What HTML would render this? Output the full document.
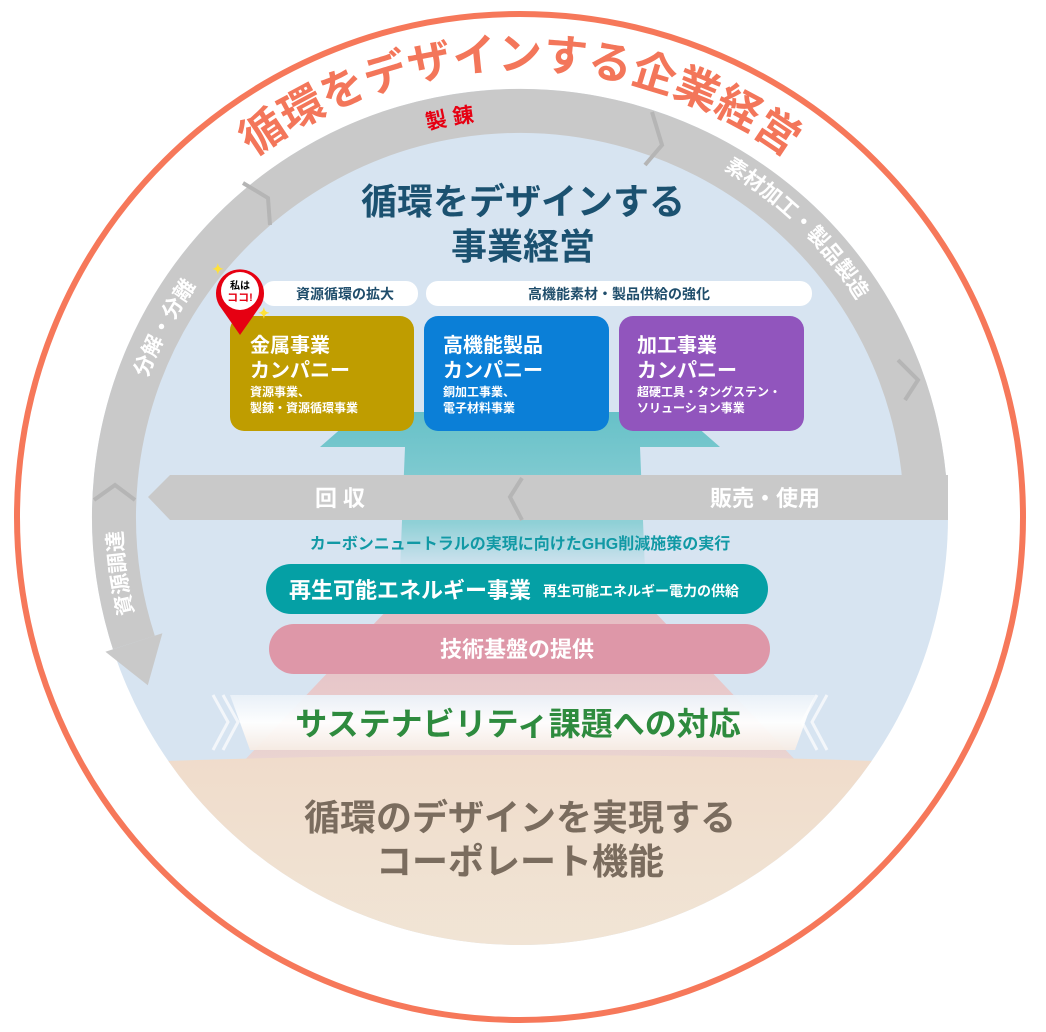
<!DOCTYPE html>
<html><head><meta charset="utf-8"><style>
html,body{margin:0;padding:0;background:#fff;}
svg{display:block;font-family:"Liberation Sans","Noto Sans CJK JP",sans-serif;font-weight:bold;}
</style></head><body>
<svg width="1046" height="1032" viewBox="0 0 1046 1032" xmlns="http://www.w3.org/2000/svg">
<defs>
<clipPath id="disc"><circle cx="520" cy="517" r="428"/></clipPath>
<linearGradient id="beige" x1="0" y1="0" x2="0" y2="1"><stop offset="0" stop-color="#f0dccb"/><stop offset="1" stop-color="#f1e7d8"/></linearGradient>
<linearGradient id="pink" x1="0" y1="0" x2="0" y2="1"><stop offset="0" stop-color="#e39aab"/><stop offset="1" stop-color="#edd2cc"/></linearGradient>
<linearGradient id="teal" x1="0" y1="0" x2="0" y2="1"><stop offset="0" stop-color="#67c1c8"/><stop offset="0.7" stop-color="#8fd0d6"/><stop offset="1" stop-color="#d6e4f1"/></linearGradient>
<linearGradient id="sus" x1="0" y1="0" x2="0" y2="1"><stop offset="0" stop-color="#eaf1f8"/><stop offset="0.5" stop-color="#ffffff"/><stop offset="1" stop-color="#f6ece4"/></linearGradient>
<path id="pTitle" d="M 72,517 A 448 448 0 0 1 968,517"/>
<path id="p1" d="M 215.1,261.1 A 398 398 0 0 1 719,172.3"/>
<path id="p2" d="M 547.8,114 A 398 398 0 0 1 915.8,475.4"/>
<path id="p3" d="M 130.7,599.8 A 398 398 0 0 1 370.9,148"/>
<path id="p4" d="M 253.7,812.8 A 398 398 0 0 1 182.5,306"/>
</defs>
<circle cx="520" cy="517" r="503" fill="#fff" stroke="#f6785a" stroke-width="6"/>
<circle cx="520" cy="517" r="428" fill="#d7e4f1"/>
<g clip-path="url(#disc)">
  <polygon points="520,470 800,765 240,765" fill="url(#pink)" opacity="0.85"/>
  <path d="M 60,765 Q 520,745 980,765 L 980,1000 L 60,1000 Z" fill="url(#beige)"/>
  <polygon points="360,412 680,412 720,447 640,447 645,570 400,570 405,447 320,447" fill="url(#teal)"/>
</g>
<path d="M 133.9,642.5 A 406 406 0 1 1 926,517" fill="none" stroke="#c9c9c9" stroke-width="44"/>
<polygon points="105.4,651.8 162.4,633.2 147.8,685.3" fill="#c9c9c9"/>
<polygon points="148,497 170,475 948,475 948,520 170,520" fill="#c9c9c9"/>
<g fill="none" stroke="#b5b5b5" stroke-width="4">
<polyline points="652,112 662,145 645,165"/>
<polyline points="898,360 918,380 905,400"/>
<polyline points="522,478 510,497 522,520"/>
<polyline points="94,500 115,485 135,500"/>
<polyline points="243,183 268,198 270,225"/>
</g>
<text font-size="44" fill="#f3765a"><textPath href="#pTitle" startOffset="50%" text-anchor="middle">循環をデザインする企業経営</textPath></text>
<text font-size="21" fill="#e60012"><textPath href="#p1" startOffset="50%" text-anchor="middle">製 錬</textPath></text>
<text font-size="21" fill="#fff"><textPath href="#p2" startOffset="50%" text-anchor="middle">素材加工・製品製造</textPath></text>
<text font-size="21" fill="#fff"><textPath href="#p3" startOffset="50%" text-anchor="middle">分解・分離</textPath></text>
<text font-size="21" fill="#fff"><textPath href="#p4" startOffset="50%" text-anchor="middle">資源調達</textPath></text>
<text x="340" y="506" font-size="22" fill="#fff" text-anchor="middle">回 収</text>
<text x="765" y="506" font-size="22" fill="#fff" text-anchor="middle">販売・使用</text>
<text x="523" y="214" font-size="36" fill="#1b5170" text-anchor="middle">循環をデザインする</text>
<text x="523" y="259" font-size="36" fill="#1b5170" text-anchor="middle">事業経営</text>
<rect x="262" y="281" width="156" height="25" rx="12" fill="#fff"/>
<text x="345" y="299" font-size="14" fill="#1f4d6b" text-anchor="middle">資源循環の拡大</text>
<rect x="426" y="281" width="386" height="25" rx="12" fill="#fff"/>
<text x="619" y="299" font-size="14" fill="#1f4d6b" text-anchor="middle">高機能素材・製品供給の強化</text>
<rect x="230" y="316" width="184" height="115" rx="14" fill="#bf9d00"/>
<text x="250" y="352" font-size="20" fill="#fff">金属事業</text>
<text x="250" y="377" font-size="20" fill="#fff">カンパニー</text>
<text x="250" y="396" font-size="12" fill="#fff">資源事業、</text>
<text x="250" y="412" font-size="12" fill="#fff">製錬・資源循環事業</text>
<rect x="424" y="316" width="185" height="115" rx="14" fill="#0b7fd7"/>
<text x="443" y="352" font-size="20" fill="#fff">高機能製品</text>
<text x="443" y="377" font-size="20" fill="#fff">カンパニー</text>
<text x="443" y="396" font-size="12" fill="#fff">銅加工事業、</text>
<text x="443" y="412" font-size="12" fill="#fff">電子材料事業</text>
<rect x="619" y="316" width="185" height="115" rx="14" fill="#9155bd"/>
<text x="637" y="352" font-size="20" fill="#fff">加工事業</text>
<text x="637" y="377" font-size="20" fill="#fff">カンパニー</text>
<text x="637" y="396" font-size="12" fill="#fff">超硬工具・タングステン・</text>
<text x="637" y="412" font-size="12" fill="#fff">ソリューション事業</text>
<path d="M 240,335 L 219,305 A 24 24 0 1 1 261,305 Z" fill="#e60012"/>
<circle cx="240" cy="291" r="19" fill="#fff"/>
<text x="240" y="289" font-size="10" fill="#000" text-anchor="middle">私は</text>
<text x="240" y="301" font-size="11" fill="#e60012" text-anchor="middle">ココ!</text>
<text x="212" y="274" font-size="14" fill="#ffe13a">✦</text>
<text x="258" y="318" font-size="14" fill="#ffe13a">✦</text>
<text x="520" y="549" font-size="16" fill="#1199a5" text-anchor="middle">カーボンニュートラルの実現に向けたGHG削減施策の実行</text>
<rect x="266" y="564" width="502" height="50" rx="25" fill="#05a0a5"/>
<text x="289" y="598" font-size="22" fill="#fff">再生可能エネルギー事業</text>
<text x="543" y="596" font-size="14" fill="#fff">再生可能エネルギー電力の供給</text>
<rect x="269" y="624" width="501" height="50" rx="25" fill="#de97a8"/>
<text x="517" y="657" font-size="22" fill="#fff" text-anchor="middle">技術基盤の提供</text>
<polygon points="230,695 815,695 795,750 250,750" fill="url(#sus)" opacity="0.95"/>
<g fill="none" stroke="#fff" stroke-width="3" opacity="0.7">
<polyline points="213,695 228,722 213,750"/><polyline points="223,695 238,722 223,750"/>
<polyline points="827,695 812,722 827,750"/><polyline points="817,695 802,722 817,750"/>
</g>
<text x="518" y="735" font-size="32" fill="#2e8b3e" text-anchor="middle">サステナビリティ課題への対応</text>
<text x="520" y="830" font-size="36" fill="#7a6c5e" text-anchor="middle">循環のデザインを実現する</text>
<text x="520" y="874" font-size="36" fill="#7a6c5e" text-anchor="middle">コーポレート機能</text>
</svg>
</body></html>
